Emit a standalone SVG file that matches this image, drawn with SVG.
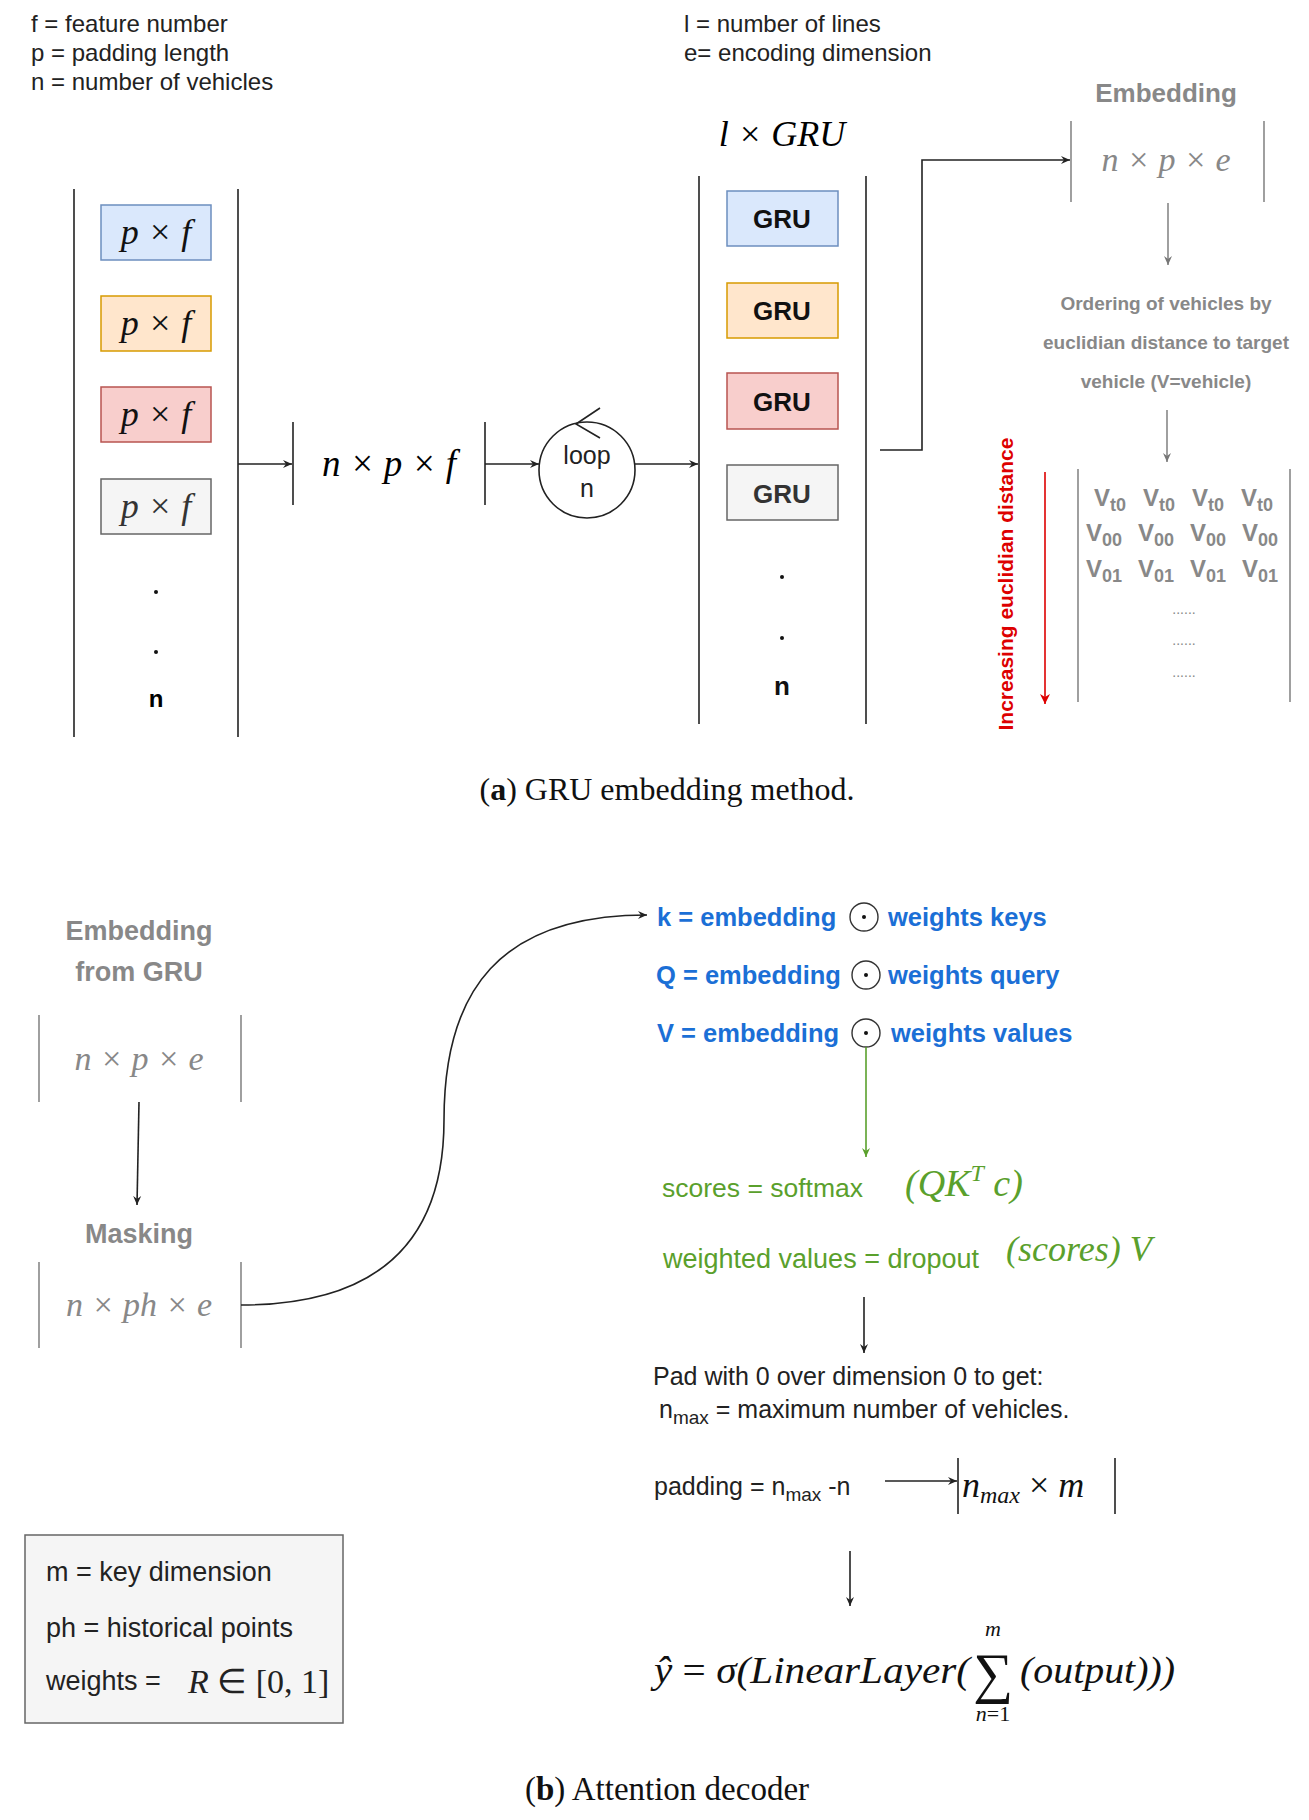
<svg xmlns="http://www.w3.org/2000/svg" width="1309" height="1820" viewBox="0 0 1309 1820">
<style>
.s{font-family:"Liberation Sans",Arial,sans-serif}
.m{font-family:"Liberation Serif","Times New Roman",serif;font-style:italic}
.r{font-family:"Liberation Serif","Times New Roman",serif}
.ln{stroke:#222;stroke-width:1.6;fill:none}
.gl{stroke:#888;stroke-width:1.6;fill:none}
.blue{fill:#1b6fd6;font-weight:bold}
.green{fill:#5aa02c}
</style>
<defs>
<marker id="a" markerWidth="10" markerHeight="10" refX="9" refY="5" orient="auto" markerUnits="userSpaceOnUse"><path d="M0,1 L9,5 L0,9 L3,5 Z" fill="#222"/></marker>
<marker id="ag" markerWidth="10" markerHeight="10" refX="9" refY="5" orient="auto" markerUnits="userSpaceOnUse"><path d="M0,1 L9,5 L0,9 L3,5 Z" fill="#777"/></marker>
<marker id="agr" markerWidth="10" markerHeight="10" refX="9" refY="5" orient="auto" markerUnits="userSpaceOnUse"><path d="M0,1 L9,5 L0,9 L3,5 Z" fill="#5aa02c"/></marker>
<marker id="ar" markerWidth="12" markerHeight="12" refX="10" refY="6" orient="auto" markerUnits="userSpaceOnUse"><path d="M0,1 L10,6 L0,11 L3,6 Z" fill="#d00"/></marker>
</defs>
<rect width="1309" height="1820" fill="#fff"/>

<g id="legend-top" class="s" font-size="24" fill="#222">
<text x="31" y="32">f = feature number</text>
<text x="31" y="61">p = padding length</text>
<text x="31" y="90">n = number of vehicles</text>
<text x="684" y="32">l = number of lines</text>
<text x="684" y="61">e= encoding dimension</text>
</g>

<g id="inputs">
<line x1="74" y1="189" x2="74" y2="737" class="ln"/>
<line x1="238" y1="189" x2="238" y2="737" class="ln"/>
<rect x="101" y="205" width="110" height="55" fill="#dae8fc" stroke="#6c8ebf" stroke-width="1.5"/>
<rect x="101" y="296" width="110" height="55" fill="#ffe6cc" stroke="#d79b00" stroke-width="1.5"/>
<rect x="101" y="387" width="110" height="55" fill="#f8cecc" stroke="#b85450" stroke-width="1.5"/>
<rect x="101" y="479" width="110" height="55" fill="#f5f5f5" stroke="#666" stroke-width="1.5"/>
<g class="m" font-size="36" text-anchor="middle" fill="#111">
<text x="156" y="244">p × f</text>
<text x="156" y="335">p × f</text>
<text x="156" y="426">p × f</text>
<text x="156" y="518" fill="#333">p × f</text>
</g>
<circle cx="156" cy="592" r="2" fill="#111"/>
<circle cx="156" cy="652" r="2" fill="#111"/>
<text x="156" y="707" class="s" font-size="24" font-weight="bold" text-anchor="middle">n</text>
</g>

<g id="npf">
<line x1="293" y1="422" x2="293" y2="505" class="ln"/>
<line x1="485" y1="422" x2="485" y2="505" class="ln"/>
<text x="389" y="476" class="m" font-size="37" text-anchor="middle">n × p × f</text>
</g>

<g id="loop">
<ellipse cx="587" cy="470" rx="48" ry="48" class="ln"/>
<path d="M600,408 L576,424 L600,438" class="ln"/>
<text x="587" y="464" class="s" font-size="25" text-anchor="middle" fill="#222">loop</text>
<text x="587" y="497" class="s" font-size="25" text-anchor="middle" fill="#222">n</text>
</g>

<g id="gru-stack">
<text x="782" y="146" class="m" font-size="36" text-anchor="middle">l × GRU</text>
<line x1="699" y1="176" x2="699" y2="724" class="ln"/>
<line x1="866" y1="176" x2="866" y2="724" class="ln"/>
<rect x="727" y="191" width="111" height="55" fill="#dae8fc" stroke="#6c8ebf" stroke-width="1.5"/>
<rect x="727" y="283" width="111" height="55" fill="#ffe6cc" stroke="#d79b00" stroke-width="1.5"/>
<rect x="727" y="373" width="111" height="56" fill="#f8cecc" stroke="#b85450" stroke-width="1.5"/>
<rect x="727" y="465" width="111" height="55" fill="#f5f5f5" stroke="#666" stroke-width="1.5"/>
<g class="s" font-size="26" font-weight="bold" text-anchor="middle" fill="#111">
<text x="782" y="228">GRU</text>
<text x="782" y="320">GRU</text>
<text x="782" y="411">GRU</text>
<text x="782" y="503" fill="#333">GRU</text>
<text x="782" y="695">n</text>
</g>
<circle cx="782" cy="577" r="2" fill="#111"/>
<circle cx="782" cy="638" r="2" fill="#111"/>
</g>

<g id="embedding">
<text x="1166" y="102" class="s" font-size="26" font-weight="bold" text-anchor="middle" fill="#888">Embedding</text>
<line x1="1071" y1="121" x2="1071" y2="202" class="gl"/>
<line x1="1264" y1="121" x2="1264" y2="202" class="gl"/>
<text x="1166" y="171" class="m" font-size="34" text-anchor="middle" fill="#888">n × p × e</text>
</g>

<g id="ordering" class="s" font-size="19" font-weight="bold" text-anchor="middle" fill="#888">
<text x="1166" y="310">Ordering of vehicles by</text>
<text x="1166" y="349">euclidian distance to target</text>
<text x="1166" y="388">vehicle (V=vehicle)</text>
</g>

<g id="matrix">
<line x1="1078" y1="469" x2="1078" y2="702" class="gl"/>
<line x1="1290" y1="469" x2="1290" y2="702" class="gl"/>
<g class="s" font-size="24" font-weight="bold" fill="#888" text-anchor="middle">
<text x="1110" y="506">V<tspan font-size="18" dy="5">t0</tspan></text>
<text x="1159" y="506">V<tspan font-size="18" dy="5">t0</tspan></text>
<text x="1208" y="506">V<tspan font-size="18" dy="5">t0</tspan></text>
<text x="1257" y="506">V<tspan font-size="18" dy="5">t0</tspan></text>
<text x="1104" y="541">V<tspan font-size="18" dy="5">00</tspan></text>
<text x="1156" y="541">V<tspan font-size="18" dy="5">00</tspan></text>
<text x="1208" y="541">V<tspan font-size="18" dy="5">00</tspan></text>
<text x="1260" y="541">V<tspan font-size="18" dy="5">00</tspan></text>
<text x="1104" y="577">V<tspan font-size="18" dy="5">01</tspan></text>
<text x="1156" y="577">V<tspan font-size="18" dy="5">01</tspan></text>
<text x="1208" y="577">V<tspan font-size="18" dy="5">01</tspan></text>
<text x="1260" y="577">V<tspan font-size="18" dy="5">01</tspan></text>
</g>
<g class="s" font-size="14" fill="#888" text-anchor="middle">
<text x="1184" y="614">......</text>
<text x="1184" y="645">......</text>
<text x="1184" y="677">......</text>
</g>
<text transform="translate(1013,584) rotate(-90)" class="s" font-size="21" font-weight="bold" fill="#d00" text-anchor="middle">Increasing euclidian distance</text>
</g>

<g id="connectors-a">
<line x1="238" y1="464" x2="292" y2="464" class="ln" marker-end="url(#a)"/>
<line x1="485" y1="464" x2="539" y2="464" class="ln" marker-end="url(#a)"/>
<line x1="635" y1="464" x2="698" y2="464" class="ln" marker-end="url(#a)"/>
<polyline points="880,450 922,450 922,160 1070,160" class="ln" marker-end="url(#a)"/>
<line x1="1168" y1="203" x2="1168" y2="265" class="gl" marker-end="url(#ag)"/>
<line x1="1167" y1="410" x2="1167" y2="462" class="gl" marker-end="url(#ag)"/>
<line x1="1045" y1="472" x2="1045" y2="704" stroke="#d00" stroke-width="1.6" marker-end="url(#ar)"/>
</g>

<text x="667" y="800" class="r" font-size="32" text-anchor="middle" fill="#111">(<tspan font-weight="bold">a</tspan>) GRU embedding method.</text>

<g id="emb-gru">
<text x="139" y="940" class="s" font-size="27" font-weight="bold" text-anchor="middle" fill="#888">Embedding</text>
<text x="139" y="981" class="s" font-size="27" font-weight="bold" text-anchor="middle" fill="#888">from GRU</text>
<line x1="39" y1="1015" x2="39" y2="1102" class="gl"/>
<line x1="241" y1="1015" x2="241" y2="1102" class="gl"/>
<text x="139" y="1070" class="m" font-size="34" text-anchor="middle" fill="#888">n × p × e</text>
</g>

<g id="masking">
<text x="139" y="1243" class="s" font-size="27" font-weight="bold" text-anchor="middle" fill="#888">Masking</text>
<line x1="39" y1="1262" x2="39" y2="1348" class="gl"/>
<line x1="241" y1="1262" x2="241" y2="1348" class="gl"/>
<text x="139" y="1316" class="m" font-size="34" text-anchor="middle" fill="#888">n × ph × e</text>
</g>

<g id="legend-box">
<rect x="25" y="1535" width="318" height="188" fill="#f5f5f5" stroke="#666" stroke-width="1.5"/>
<g class="s" font-size="27" fill="#222">
<text x="46" y="1581">m = key dimension</text>
<text x="46" y="1637">ph = historical points</text>
<text x="46" y="1690">weights =</text>
</g>
<text x="188" y="1693" class="r" font-size="34" fill="#222"><tspan font-style="italic">R</tspan> ∈ [0, 1]</text>
</g>

<g id="kqv" font-size="25.5" class="s">
<text x="657" y="926" class="blue">k = embedding</text>
<text x="656" y="984" class="blue">Q = embedding</text>
<text x="657" y="1042" class="blue">V = embedding</text>
<text x="888" y="926" class="blue">weights keys</text>
<text x="888" y="984" class="blue">weights query</text>
<text x="891" y="1042" class="blue">weights values</text>
<g stroke="#333" stroke-width="1.4" fill="none">
<circle cx="864" cy="917" r="14"/><circle cx="866" cy="975" r="14"/><circle cx="866" cy="1033" r="14"/>
</g>
<g fill="#111"><circle cx="864" cy="917" r="2"/><circle cx="866" cy="975" r="2"/><circle cx="866" cy="1033" r="2"/></g>
</g>

<g id="scores">
<text x="662" y="1197" class="s green" font-size="26.5">scores = softmax</text>
<text x="905" y="1196" class="m green" font-size="38">(QK<tspan font-size="24" dy="-15">T</tspan><tspan dy="15"> c)</tspan></text>
<text x="663" y="1268" class="s green" font-size="27">weighted values = dropout</text>
<text x="1006" y="1261" class="m green" font-size="36">(scores) V</text>
</g>

<g id="pad" class="s" font-size="25" fill="#222">
<text x="653" y="1385">Pad with 0 over dimension 0 to get:</text>
<text x="659" y="1418">n<tspan font-size="19" dy="6">max</tspan><tspan dy="-6"> = maximum number of vehicles.</tspan></text>
<text x="654" y="1495">padding = n<tspan font-size="19" dy="6">max</tspan><tspan dy="-6"> -n</tspan></text>
</g>

<g id="nmax">
<line x1="958" y1="1458" x2="958" y2="1514" class="ln"/>
<line x1="1115" y1="1458" x2="1115" y2="1514" class="ln"/>
<text x="962" y="1497" class="m" font-size="36" fill="#111">n<tspan font-size="24" dy="6">max</tspan><tspan dy="-6" font-style="normal"> × </tspan>m</text>
</g>

<g id="output">
<text x="654" y="1683" class="m" font-size="37" fill="#111" textLength="316" lengthAdjust="spacingAndGlyphs">ŷ <tspan font-style="normal">=</tspan> σ(LinearLayer(</text>
<text x="993" y="1692" class="r" font-size="56" text-anchor="middle" fill="#111">∑</text>
<text x="993" y="1636" class="m" font-size="22" text-anchor="middle" fill="#111">m</text>
<text x="993" y="1721" class="m" font-size="22" text-anchor="middle" fill="#111">n<tspan font-style="normal">=1</tspan></text>
<text x="1020" y="1683" class="m" font-size="37" fill="#111" textLength="155" lengthAdjust="spacingAndGlyphs">(output)))</text>
</g>

<g id="connectors-b">
<line x1="139" y1="1102" x2="137" y2="1205" class="ln" marker-end="url(#a)"/>
<path d="M241,1305 C400,1305 444,1220 444,1120 C444,990 500,915 647,915" class="ln" marker-end="url(#a)"/>
<line x1="866" y1="1047" x2="866" y2="1157" stroke="#5aa02c" stroke-width="1.6" marker-end="url(#agr)"/>
<line x1="864" y1="1297" x2="864" y2="1353" class="ln" marker-end="url(#a)"/>
<line x1="885" y1="1481" x2="957" y2="1481" class="ln" marker-end="url(#a)"/>
<line x1="850" y1="1551" x2="850" y2="1606" class="ln" marker-end="url(#a)"/>
</g>

<text x="667" y="1800" class="r" font-size="33" text-anchor="middle" fill="#111">(<tspan font-weight="bold">b</tspan>) Attention decoder</text>
</svg>
